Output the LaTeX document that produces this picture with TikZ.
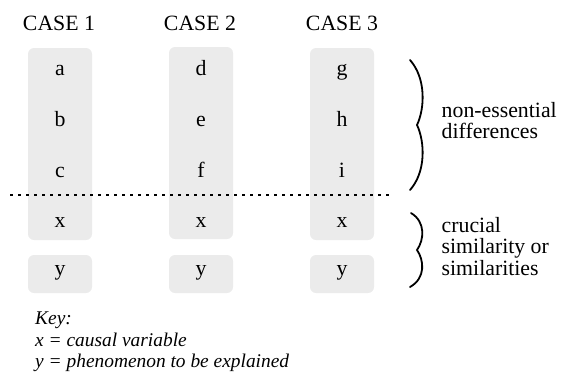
\documentclass[tikz,border=0pt]{standalone}
\usepackage{fontspec}
\setmainfont{Liberation Serif}
\begin{document}
\begin{tikzpicture}[x=1pt,y=-1pt,
  colbox/.style={fill=boxgray, rounded corners=6pt, draw=none, minimum width=64pt, inner sep=0pt},
  lbl/.style={font=\fontsize{21.8}{21.8}\selectfont, anchor=base, inner sep=0pt},
  side/.style={font=\fontsize{21.8}{21.8}\selectfont, anchor=base west, inner sep=0pt},
  keytext/.style={font=\fontsize{19.4}{21}\selectfont\itshape, anchor=base west, inner sep=0pt},
  bracepath/.style={line width=1.8pt, line cap=round},
  sep/.style={line width=1.3pt, dash pattern=on 2.5pt off 5.5pt}
]
\definecolor{boxgray}{HTML}{EBEBEB}
\useasboundingbox (0,0) rectangle (565,375);

% column boxes
\node[colbox, minimum height=192pt] (box1) at (60,144) {};
\node[colbox, minimum height=192pt] (box2) at (201,143) {};
\node[colbox, minimum height=192pt] (box3) at (342,144) {};
\node[colbox, minimum height=38pt] (ybox1) at (60,274) {};
\node[colbox, minimum height=38pt] (ybox2) at (201,274) {};
\node[colbox, minimum height=38pt] (ybox3) at (342,274) {};

% headings
\node[lbl] (h1) at (59,30) {CASE 1};
\node[lbl] (h2) at (200,30) {CASE 2};
\node[lbl] (h3) at (342,30) {CASE 3};

% letters
\node[lbl] (a) at (60,75) {a};
\node[lbl] (b) at (60,126) {b};
\node[lbl] (c) at (60,177) {c};
\node[lbl] (x1) at (60,227) {x};
\node[lbl] (y1) at (60,275) {y};

\node[lbl] (d) at (201,75) {d};
\node[lbl] (e) at (201,126) {e};
\node[lbl] (f) at (201,177) {f};
\node[lbl] (x2) at (201,227) {x};
\node[lbl] (y2) at (201,275) {y};

\node[lbl] (g) at (342,75) {g};
\node[lbl] (h) at (342,126) {h};
\node[lbl] (i) at (342,177) {i};
\node[lbl] (x3) at (342,227) {x};
\node[lbl] (y3) at (342,275) {y};

% dotted separator
\coordinate (sepL) at (10,195);
\coordinate (sepR) at (389,195);
\draw[sep] (sepL) -- (sepR);

% braces
\coordinate (b1top) at (410,60);
\coordinate (b1mid) at (417,125);
\coordinate (b1bot) at (410,190);
\draw[bracepath] (b1top) .. controls (426,78) and (425,108) .. (b1mid)
                 .. controls (425,142) and (426,172) .. (b1bot);
\coordinate (b2top) at (411,213);
\coordinate (b2mid) at (417,250);
\coordinate (b2bot) at (410,287);
\draw[bracepath] (b2top) .. controls (426,222) and (424,240) .. (b2mid)
                 .. controls (424,260) and (426,278) .. (b2bot);

% side labels
\node[side] (ne1) at (441.5,117.5) {non-essential};
\node[side] (ne2) at (441.5,138.5) {differences};
\node[side] (cs1) at (441.5,232) {crucial};
\node[side] (cs2) at (441.5,253.5) {similarity or};
\node[side] (cs3) at (441.5,275) {similarities};

% key
\node[keytext] (key1) at (35,324) {Key:};
\node[keytext] (key2) at (35,346) {x = causal variable};
\node[keytext] (key3) at (35,367) {y = phenomenon to be explained};
\end{tikzpicture}
\end{document}
